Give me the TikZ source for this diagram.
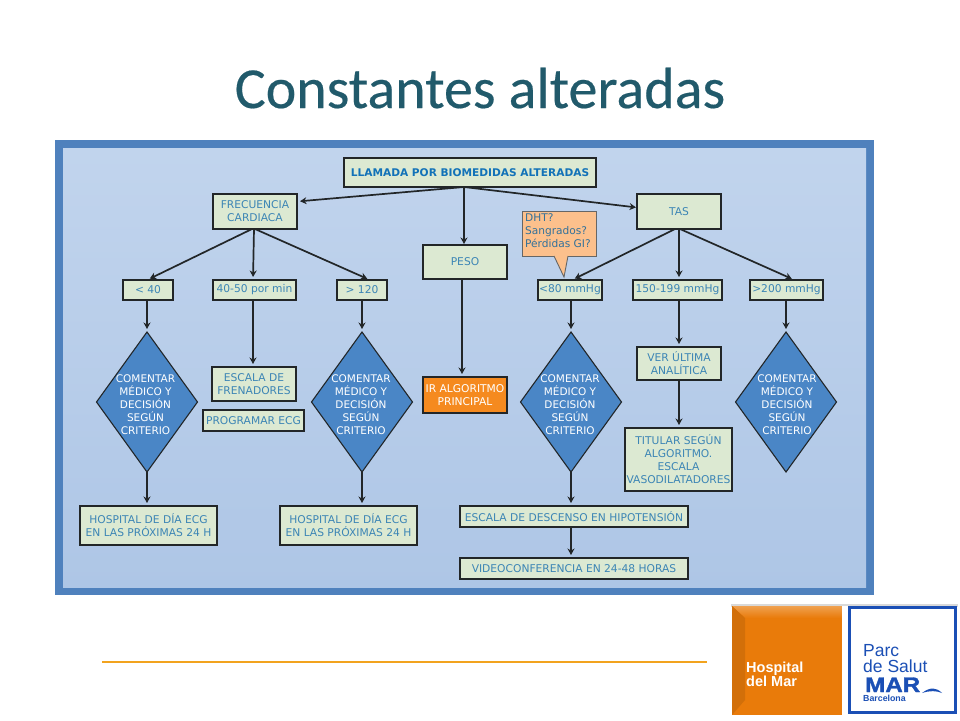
\documentclass[tikz,border=0pt]{standalone}
\usepackage{fontspec}
\setmainfont{DejaVu Sans}
\newfontfamily\titlefont[FakeBold=0.35]{Carlito}
\newfontfamily\logofont{Liberation Sans}
\newfontfamily\marfont[FakeBold=1.5]{Liberation Sans Bold}
\usetikzlibrary{shapes.geometric,arrows.meta}
\definecolor{panelblue}{HTML}{4F81BD}
\definecolor{paneltop}{HTML}{C1D4ED}
\definecolor{panelbot}{HTML}{AEC6E6}
\definecolor{boxfill}{HTML}{DCE9D2}
\definecolor{boxtext}{HTML}{3C85B5}
\definecolor{toptext}{HTML}{1272B8}
\definecolor{diafill}{HTML}{4A86C6}
\definecolor{inkline}{HTML}{222628}
\definecolor{orangebox}{HTML}{F58A1F}
\definecolor{calloutfill}{HTML}{FCC08C}
\definecolor{titlecol}{HTML}{215A6B}
\definecolor{rulecol}{HTML}{F2A31E}
\definecolor{logoblue}{HTML}{1B4FB5}
\definecolor{logoorange}{HTML}{E97B0A}
\tikzset{
  bx/.style={draw=inkline,line width=2pt,fill=boxfill,text=boxtext,inner sep=0pt,outer sep=0pt,align=center,font=\fontsize{10.7}{13}\selectfont},
  topbx/.style={bx,text=toptext,font=\fontsize{10.6}{12}\bfseries\selectfont},
  orbx/.style={bx,fill=orangebox,text=white},
  dia/.style={diamond,draw=inkline,line width=1.1pt,fill=diafill,inner sep=0pt,outer sep=0pt,minimum width=101pt,minimum height=140pt},
  diatxt/.style={text=white,align=center,inner sep=0pt,font=\fontsize{10.5}{13}\selectfont},
  arr/.style={draw=inkline,line width=1.7pt,-{Stealth[length=6.5pt,width=7pt]},shorten >=3pt}
}
\newcommand{\bxat}[7][bx]{\node[#1,minimum width={#4-#2},minimum height={#5-#3}] (#6) at ({(#2+#4)/2},{(#3+#5)/2}) {#7};}
\begin{document}
\begin{tikzpicture}[x=1pt,y=-1pt]
\useasboundingbox (0,0) rectangle (960,720);
\fill[white] (0,0) rectangle (960,720);
% title
\node[anchor=base,text=titlecol,inner sep=0pt,font=\fontsize{58}{62}\titlefont\selectfont] (title) at (480,108) {Constantes alteradas};
% panel
\fill[panelblue] (55,140) rectangle (874,595);
\shade[top color=paneltop,bottom color=panelbot] (63,148) rectangle (866,587);
% boxes
\bxat[topbx]{344}{158}{596}{187}{top}{LLAMADA POR BIOMEDIDAS ALTERADAS}
\bxat{213}{194}{297}{229}{fc}{FRECUENCIA\\CARDIACA}
\bxat{123}{280}{173}{300}{lt}{< 40}
\bxat{213}{280}{296}{300}{mid}{40-50 por min}
\bxat{337}{280}{387}{300}{gt}{> 120}
\bxat{423}{245}{507}{279}{peso}{PESO}
\bxat{637}{194}{721}{229}{tas}{TAS}
\bxat{538}{280}{602}{300}{lowp}{<80 mmHg}
\bxat{633}{280}{722}{300}{midp}{150-199 mmHg}
\bxat{750}{280}{823}{300}{highp}{>200 mmHg}
\bxat{637}{347}{721}{380}{ver}{VER ÚLTIMA\\ANALÍTICA}
\bxat{212}{367}{296}{401}{esc}{ESCALA DE\\FRENADORES}
\bxat{203}{410}{304}{431}{prog}{PROGRAMAR ECG}
\bxat[orbx]{423}{377}{507}{413}{ir}{IR ALGORITMO\\PRINCIPAL}
\bxat{80}{506}{217}{545}{hosa}{HOSPITAL DE DÍA ECG\\EN LAS PRÓXIMAS 24 H}
\bxat{280}{506}{417}{545}{hosb}{HOSPITAL DE DÍA ECG\\EN LAS PRÓXIMAS 24 H}
\bxat{625}{428}{732}{491}{tit}{TITULAR SEGÚN\\ALGORITMO.\\ESCALA\\VASODILATADORES}
\bxat{460}{506}{688}{527}{desc}{ESCALA DE DESCENSO EN HIPOTENSIÓN}
\bxat{460}{558}{688}{579}{vid}{VIDEOCONFERENCIA EN 24-48 HORAS}
% diamonds
\node[dia] (da) at (147,402) {};
\node[dia] (db) at (362,402) {};
\node[dia] (dc) at (571,402) {};
\node[dia] (dd) at (786,402) {};
\node[diatxt] (ta) at (145.5,405) {COMENTAR\\MÉDICO Y\\DECISIÓN\\SEGÚN\\CRITERIO};
\node[diatxt] (tb) at (361,405) {COMENTAR\\MÉDICO Y\\DECISIÓN\\SEGÚN\\CRITERIO};
\node[diatxt] (tc) at (570,405) {COMENTAR\\MÉDICO Y\\DECISIÓN\\SEGÚN\\CRITERIO};
\node[diatxt] (td) at (787,405) {COMENTAR\\MÉDICO Y\\DECISIÓN\\SEGÚN\\CRITERIO};
% callout
\filldraw[draw=gray!80!black,line width=0.9pt,fill=calloutfill] (522,211) rectangle (596,256);
\filldraw[draw=gray!80!black,line width=0.9pt,fill=calloutfill] (554,256) -- (564,277) -- (568,256);
\fill[calloutfill] (555,254.5) rectangle (567,257);
\node[anchor=north west,text=boxtext!85!black,align=left,inner sep=0pt,font=\fontsize{10.6}{13}\selectfont] (cal) at (525,213) {DHT?\\Sangrados?\\Pérdidas GI?};
% connectors
\coordinate (hub) at (464,187);
\draw[arr] (hub) -- ([yshift=10pt]fc.east);
\draw[arr,shorten >=1pt] (hub) -- (peso.north -| hub);
\draw[arr,shorten >=1pt] (hub) -- ([yshift=4pt]tas.west);
\draw[arr] ([xshift=-3pt]fc.south) -- ([xshift=-1pt]lt.north);
\draw[arr] ([xshift=-1pt]fc.south) -- ([xshift=-1.5pt]mid.north);
\draw[arr] (fc.south) -- ([xshift=8pt]gt.north);
\draw[arr] ([xshift=-4pt]tas.south) -- ([xshift=2pt]lowp.north);
\draw[arr] (tas.south) -- (tas.south |- midp.north);
\draw[arr] ([xshift=1pt]tas.south) -- ([xshift=8pt]highp.north);
\draw[arr] (da.north |- lt.south) -- (da.north);
\draw[arr] (db.north |- gt.south) -- (db.north);
\draw[arr] (dc.north |- lowp.south) -- (dc.north);
\draw[arr] (dd.north |- highp.south) -- (dd.north);
\draw[arr] ([xshift=-1pt]esc.north |- mid.south) -- ([xshift=-1pt]esc.north);
\draw[arr] ([xshift=-3pt]peso.south) -- ([xshift=-3pt]ir.north);
\draw[arr] (ver.north |- midp.south) -- (ver.north);
\draw[arr] (ver.south) -- (ver.south |- tit.north);
\draw[arr] (da.south) -- (da.south |- hosa.north);
\draw[arr] (db.south) -- (db.south |- hosb.north);
\draw[arr] (dc.south) -- (dc.south |- desc.north);
\draw[arr] (dc.south |- desc.south) -- (dc.south |- vid.north);
% footer rule
\draw[rulecol,line width=2.8pt] (102,662) -- (707,662);
% logo
\fill[gray!30] (731,604) rectangle (958,606.5);
\fill[logoorange] (732,606) rectangle (842,715);
\shade[top color=logoorange!72!white,bottom color=logoorange] (732,606) -- (842,606) -- (842,618) -- (745,618) -- cycle;
\fill[logoorange!90!black] (732,606) -- (745,618) -- (745,700) -- (732,715) -- cycle;
\fill[white] (842,606) rectangle (848,715);
\draw[logoblue,line width=3pt,fill=white] (849.5,607.5) rectangle (955.5,712.5);
\node[anchor=base west,text=white,inner sep=0pt,font=\logofont\bfseries\fontsize{14.5}{15}\selectfont] (hm) at (746,672) {Hospital};
\node[anchor=base west,text=white,inner sep=0pt,font=\logofont\bfseries\fontsize{14.5}{15}\selectfont] (hmb) at (746,686) {del Mar};
\node[anchor=base west,text=logoblue,inner sep=0pt,font=\logofont\fontsize{17.5}{18}\selectfont] (pa) at (863,656) {Parc};
\node[anchor=base west,text=logoblue,inner sep=0pt,font=\logofont\fontsize{17.5}{18}\selectfont] (pb) at (863,672) {de Salut};
\node[anchor=base west,text=logoblue,inner sep=0pt,xscale=1.15,font=\marfont\fontsize{21}{21}\selectfont] (pc) at (865,692) {MAR};
\node[anchor=base west,text=logoblue,inner sep=0pt,font=\logofont\bfseries\fontsize{8.8}{9}\selectfont] (pd) at (863,701.5) {Barcelona};
\fill[logoblue] (922,693) .. controls (930,687) and (936,687) .. (942,693) .. controls (936,690.5) and (930,690.5) .. cycle;
\end{tikzpicture}
\end{document}
